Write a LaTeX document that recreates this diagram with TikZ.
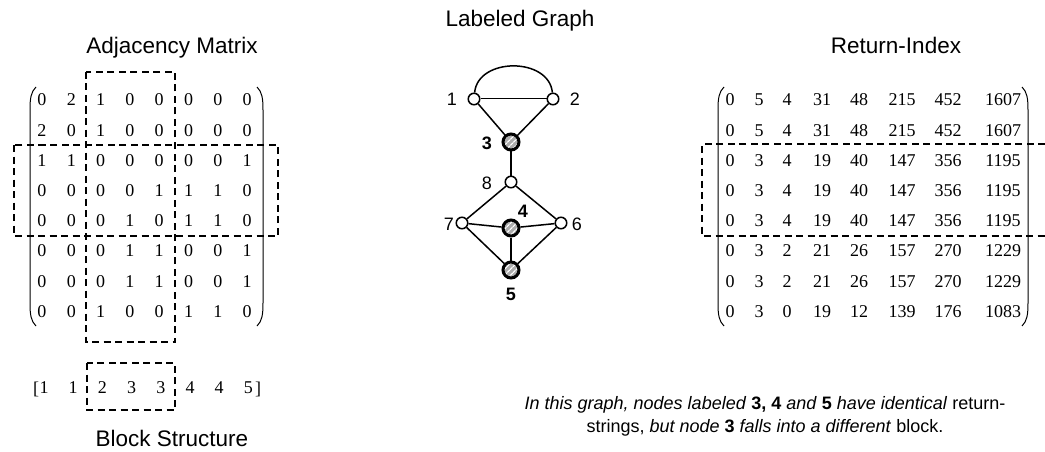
\documentclass[tikz,border=0pt]{standalone}
\usepackage{fontspec}
\setmainfont{Liberation Serif}
\newfontfamily\arial{Liberation Sans}
\usetikzlibrary{patterns.meta}
\begin{document}
\begin{tikzpicture}[x=1pt,y=-1pt,
  num/.style={font=\fontsize{18}{20}\selectfont, inner sep=0pt, anchor=center},
  brk/.style={font=\fontsize{18}{20}\selectfont, inner sep=0pt, anchor=base},
  ttl/.style={font=\arial\fontsize{22.5}{26}\selectfont, inner sep=0pt, anchor=base},
  glabel/.style={font=\arial\fontsize{18}{20}\selectfont, inner sep=0pt, anchor=center},
  captxt/.style={font=\arial\fontsize{18}{22}\selectfont, inner sep=0pt, anchor=base},
  blockbox/.style={dash pattern=on 7pt off 4.5pt, line width=1.8pt},
  opennode/.style={circle, draw, line width=1.5pt, fill=white, minimum size=11.5pt, inner sep=0pt},
  hatchnode/.style={circle, draw, line width=3pt, minimum size=16pt, inner sep=0pt,
     preaction={fill=gray!65}, pattern={Lines[angle=45,distance=4pt,line width=1.3pt]}, pattern color=white},
  gedge/.style={line width=1.5pt},
  paren/.style={line width=1pt}
]
\useasboundingbox (0,0) rectangle (1045,452);

% ---------- titles ----------
\node[ttl] (tAdj) at (172,54) {Adjacency Matrix};
\node[ttl] (tGraph) at (520,27) {Labeled Graph};
\node[ttl] (tRet) at (896,54) {Return-Index};
\node[ttl] (tBlock) at (172,446) {Block Structure};

% ---------- adjacency matrix ----------
\foreach \row [count=\i] in {{0,2,1,0,0,0,0,0},{2,0,1,0,0,0,0,0},{1,1,0,0,0,0,0,1},{0,0,0,0,1,1,1,0},{0,0,0,1,0,1,1,0},{0,0,0,1,1,0,0,1},{0,0,0,1,1,0,0,1},{0,0,1,0,0,1,1,0}}{
  \foreach \v [count=\j] in \row {
    \node[num] (a-\i-\j) at ({42+29.3*(\j-1)},{100+30.2*(\i-1)}) {\v};
  }
}
\draw[paren] (36,87) .. controls (31,92) and (30,98) .. (30,110) -- (30,303) .. controls (30,315) and (31,321) .. (36,326);
\draw[paren] (257,87) .. controls (262,92) and (263,98) .. (263,110) -- (263,303) .. controls (263,315) and (262,321) .. (257,326);
\draw[blockbox] (86,72) rectangle (175,342);
\draw[blockbox] (14,145) rectangle (278,236);

% ---------- block structure ----------
\foreach \v [count=\j] in {1,1,2,3,3,4,4,5}{
  \node[num] (b-\j) at ({44+29.2*(\j-1)},388) {\v};
}
\node[brk] (bl) at (36,394) {[};
\node[brk] (br) at (258,394) {]};
\draw[blockbox] (87,363) rectangle (175,410);

% ---------- return index ----------
\def\rx{{730,759,787,822,859,902,948,1003}}
\foreach \row [count=\i] in {{0,5,4,31,48,215,452,1607},{0,5,4,31,48,215,452,1607},{0,3,4,19,40,147,356,1195},{0,3,4,19,40,147,356,1195},{0,3,4,19,40,147,356,1195},{0,3,2,21,26,157,270,1229},{0,3,2,21,26,157,270,1229},{0,3,0,19,12,139,176,1083}}{
  \foreach \v [count=\j] in \row {
    \pgfmathsetmacro\xx{\rx[\j-1]}
    \node[num] (r-\i-\j) at (\xx,{100+30.2*(\i-1)}) {\v};
  }
}
\draw[paren] (724,87) .. controls (719,92) and (718,98) .. (718,110) -- (718,303) .. controls (718,315) and (719,321) .. (724,326);
\draw[paren] (1022,87) .. controls (1027,92) and (1028,98) .. (1028,110) -- (1028,303) .. controls (1028,315) and (1027,321) .. (1022,326);
\draw[blockbox] (1045,144) -- (702,144) -- (702,236) -- (1045,236);

% ---------- graph ----------
\node[opennode] (n1) at (474,99) {};
\node[opennode] (n2) at (553,99) {};
\node[hatchnode] (n3) at (511,142) {};
\node[opennode] (n8) at (511,182) {};
\node[opennode] (n7) at (462,223) {};
\node[hatchnode] (n4) at (511,228) {};
\node[opennode] (n6) at (561,223) {};
\node[hatchnode] (n5) at (511,270) {};
\draw[line width=1pt] (n1) -- (n2);
\draw[gedge] (n1) .. controls (478,57) and (549,57) .. (n2);
\draw[gedge] (n1) -- (n3);
\draw[gedge] (n2) -- (n3);
\draw[gedge] (n3) -- (n8);
\draw[gedge] (n8) -- (n7);
\draw[gedge] (n8) -- (n6);
\draw[gedge] (n7) -- (n4);
\draw[gedge] (n4) -- (n6);
\draw[gedge] (n7) -- (n5);
\draw[gedge] (n6) -- (n5);
\draw[gedge] (n4) -- (n5);

\node[glabel] (l1) at (452,99) {1};
\node[glabel] (l2) at (575,99) {2};
\node[glabel,font=\arial\bfseries\fontsize{18}{20}\selectfont] (l3) at (487,143) {3};
\node[glabel] (l8) at (487,183) {8};
\node[glabel] (l7) at (449,224) {7};
\node[glabel] (l6) at (577,224) {6};
\node[glabel,font=\arial\bfseries\fontsize{18}{20}\selectfont] (l4) at (523,211) {4};
\node[glabel,font=\arial\bfseries\fontsize{18}{20}\selectfont] (l5) at (511,294) {5};

% ---------- caption ----------
\node[captxt] (c1) at (765,409) {\textit{In this graph, nodes labeled} \textbf{3, 4} \textit{and} \textbf{5} \textit{have identical} return-};
\node[captxt] (c2) at (765,432) {strings, \textit{but node} \textbf{3} \textit{falls into a different} block.};
\end{tikzpicture}
\end{document}
